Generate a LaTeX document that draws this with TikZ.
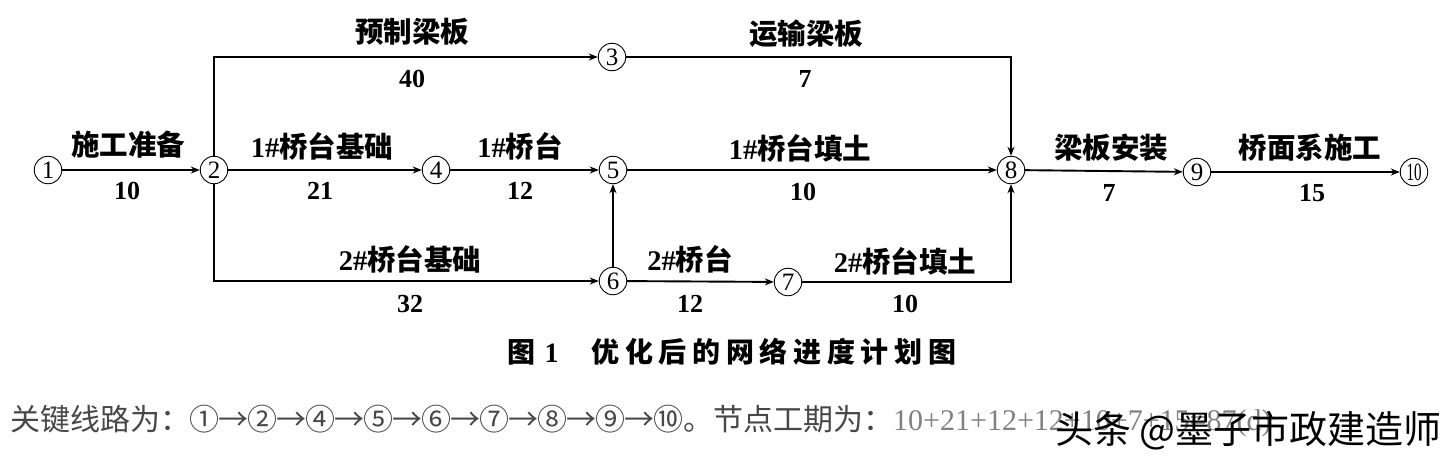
\documentclass[tikz,border=0pt]{standalone}
\usepackage{fontspec}
\setmainfont{Liberation Serif}
\newfontfamily\cjk{Noto Sans CJK SC}
\usetikzlibrary{arrows.meta}
\newcommand\cbx[1]{\makebox[29pt]{#1}}
\newcommand\capbx[1]{\makebox[33.7pt]{#1}}
\tikzset{
  ev/.style={draw, circle, line width=0.9pt, minimum size=27.5pt, inner sep=0pt, font=\fontsize{25}{25}\selectfont},
  act/.style={line width=1.9pt, -{Stealth[length=9pt,width=7pt]}},
  lab/.style={font=\fontsize{28.5}{28.5}\selectfont\bfseries, inner sep=0pt},
  dur/.style={font=\fontsize{26}{26}\selectfont\bfseries, inner sep=0pt},
}
\begin{document}
\begin{tikzpicture}[x=1pt, y=-1pt]
\useasboundingbox (0,0) rectangle (1449,466);
% events
\node[ev] (n1) at (48,170) {1};
\node[ev] (n2) at (214,170) {2};
\node[ev] (n3) at (612,57) {3};
\node[ev] (n4) at (436,170) {4};
\node[ev] (n5) at (613,170) {5};
\node[ev] (n6) at (613,281) {6};
\node[ev] (n7) at (788,282) {7};
\node[ev] (n8) at (1011,170) {8};
\node[ev] (n9) at (1197,172) {9};
\node[ev] (n10) at (1414,172) {\scalebox{0.6}[1]{10}};
% activities
\draw[act] (n1) -- (n2);
\draw[act] (n2) -- (n4);
\draw[act] (n4) -- (n5);
\draw[act] (n5) -- (n8);
\draw[act] (n8) -- (n9);
\draw[act] (n9) -- (n10);
\draw[act] (n2) |- (n3);
\draw[act] (n2) |- (n6);
\draw[act] (n3) -| (n8);
\draw[act] (n7) -| (n8);
\draw[act] (n6) -- (n5);
\draw[act] (n6) -- (n7);
% labels
\node[lab] (l13) at (412,32) {\cjk 预制梁板};
\node[dur] (d13) at (412,79) {40};
\node[lab] (l38) at (806,34) {\cjk 运输梁板};
\node[dur] (d38) at (805,79) {7};
\node[lab] (l12) at (128,145) {\cjk 施工准备};
\node[dur] (d12) at (127,191) {10};
\node[lab] (l24) at (322,146) {1\#{\cjk 桥台基础}};
\node[dur] (d24) at (320,191) {21};
\node[lab] (l45) at (520,146) {1\#{\cjk 桥台}};
\node[dur] (d45) at (520,191) {12};
\node[lab] (l58) at (800,148) {1\#{\cjk 桥台填土}};
\node[dur] (d58) at (803,192) {10};
\node[lab] (l89) at (1111,148) {\cjk 梁板安装};
\node[dur] (d89) at (1109,193) {7};
\node[lab] (l910) at (1310,148) {\cjk 桥面系施工};
\node[dur] (d910) at (1312,193) {15};
\node[lab] (l26) at (410,259) {2\#{\cjk 桥台基础}};
\node[dur] (d26) at (410,304) {32};
\node[lab] (l67) at (690,259) {2\#{\cjk 桥台}};
\node[dur] (d67) at (690,304) {12};
\node[lab] (l78) at (905,261) {2\#{\cjk 桥台填土}};
\node[dur] (d78) at (905,304) {10};
% caption
\node[font=\fontsize{28}{28}\selectfont\bfseries, inner sep=0pt] (cap) at (732,352)
  {\capbx{\cjk 图}\hspace{6pt}1\hspace{30pt}\cjk\capbx{优}\capbx{化}\capbx{后}\capbx{的}\capbx{网}\capbx{络}\capbx{进}\capbx{度}\capbx{计}\capbx{划}\capbx{图}};
% bottom text
\node[anchor=west, inner sep=0pt, text=black!72, font=\fontsize{30}{30}\selectfont] (txt) at (10,421)
  {{\cjk 关键线路为：\cbx{①}\cbx{→}\cbx{②}\cbx{→}\cbx{④}\cbx{→}\cbx{⑤}\cbx{→}\cbx{⑥}\cbx{→}\cbx{⑦}\cbx{→}\cbx{⑧}\cbx{→}\cbx{⑨}\cbx{→}\cbx{⑩}。节点工期为：}{\color{black!50}10+21+12+12+10+7+15=87(d)}};
\node[anchor=east, inner sep=0pt, text=black, font=\fontsize{38}{38}\selectfont] (wm) at (1442,431) {\cjk 头条 @墨子市政建造师};
\end{tikzpicture}
\end{document}
